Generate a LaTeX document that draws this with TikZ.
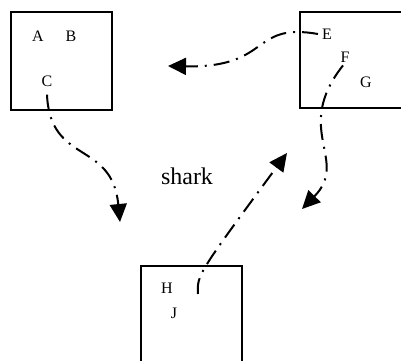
\documentclass[tikz,border=0pt]{standalone}
\usepackage{fontspec}
\setmainfont{Liberation Serif}
\usetikzlibrary{arrows.meta}
\begin{document}
\begin{tikzpicture}[x=1pt,y=-1pt,
  boxline/.style={draw=black,line width=1.6pt},
  lbl/.style={font=\fontsize{16}{18}\selectfont,inner sep=0pt},
  conn/.style={draw=black,line width=2pt,dash pattern=on 16pt off 7pt on 2pt off 7pt,
    -{Triangle[length=18pt,width=17pt]}},
  ]
\useasboundingbox (0,0) rectangle (401,360);
\begin{scope}
\clip (0,0) rectangle (401,360);
\draw[boxline] (11,12) rectangle (112,110);
\draw[boxline] (300,12) rectangle (420,108);
\draw[boxline] (141,266) rectangle (242,380);
\end{scope}
\node[lbl] (A) at (38,36) {A};
\node[lbl] (B) at (71,36) {B};
\node[lbl] (C) at (47,81) {C};
\node[lbl] (E) at (327,34) {E};
\node[lbl] (F) at (345,57) {F};
\node[lbl] (G) at (366,82) {G};
\node[lbl] (H) at (167,288) {H};
\node[lbl] (J) at (174,313) {J};
\node[font=\fontsize{24}{26}\selectfont,inner sep=0pt] (shark) at (187,176) {shark};
\coordinate (hs) at (198,294);
\coordinate (t1) at (120,222);
\coordinate (t2) at (168,66);
\coordinate (t3) at (302,209);
\coordinate (t4) at (287,153);
\draw[conn] ([yshift=-8pt]C.south) .. controls (50,165) and (112,140) .. (t1);
\draw[conn] ([xshift=-4pt]E.west) .. controls (250,22) and (272,68) .. (t2);
\draw[conn] ([xshift=-2pt,yshift=-3pt]F.south) .. controls (292,130) and (350,160) .. (t3);
\draw[conn] (hs) .. controls (197,275) .. (t4);
\end{tikzpicture}
\end{document}
